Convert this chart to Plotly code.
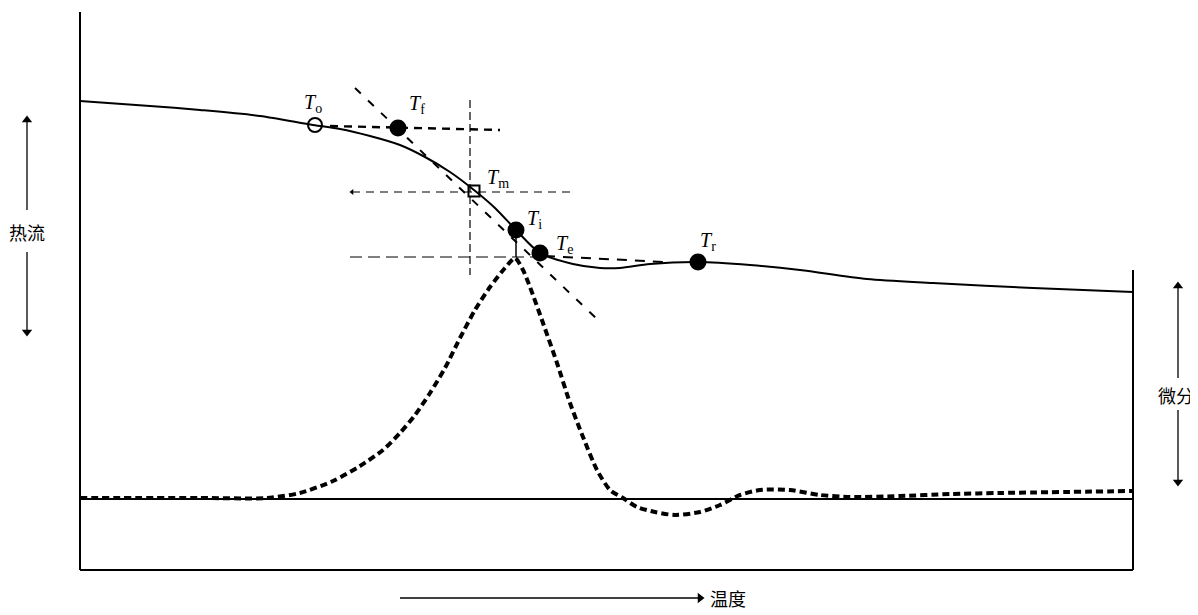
import plotly.graph_objects as go

# Heat-flow curve (temperature, heat flow) in arbitrary units
temp_hf = [0, 7, 12, 18, 23.3, 26, 29, 32, 34.5, 37, 39.4, 41.5, 43.6, 46, 49.3, 52, 54, 57, 61.8,
           67, 72, 78.7, 85.3, 95.3, 105.3]
heat_flow = [46.9, 46.4, 46.0, 45.4, 44.5, 44.1, 43.4, 42.5, 41.3, 39.8, 38.0, 36.2, 34.0, 31.7,
             30.6, 30.2, 30.2, 30.6, 30.8, 30.5, 30.0, 29.1, 28.7, 28.2, 27.8]

# Derivative curve
temp_d = [0, 12, 18.7, 22, 25.3, 28, 30.3, 32, 33.5, 35, 36.5, 38, 39.5, 41, 42.5, 43.5,
          44.3, 45, 46.3, 47.7, 49, 50.3, 51.7, 53, 54.3, 55.7, 57.5, 59.5, 62, 64, 66, 68, 71,
          74, 77, 82, 87, 92, 105.3]
deriv = [7.2, 7.2, 7.2, 7.7, 8.9, 10.4, 12.0, 13.7, 15.5, 17.7, 20.2, 23.2, 26.0, 28.3, 30.2, 31.2,
         30.0, 28.3, 24.7, 20.7, 16.7, 13.3, 10.0, 8.0, 7.2, 6.3, 5.8, 5.5, 5.8, 6.5, 7.5, 8.0,
         8.0, 7.5, 7.3, 7.4, 7.6, 7.7, 7.9]

baseline_x = [0, 105.3]
baseline_y = [7.1, 7.1]

# Characteristic points
pt_names = ["o", "f", "m", "i", "e", "r"]
pt_x = [23.5, 31.8, 39.4, 43.6, 46.0, 61.8]
pt_y = [44.5, 44.2, 37.9, 34.0, 31.7, 30.8]
lbl_x = [23.3, 33.7, 41.8, 45.4, 48.4, 62.8]
lbl_y = [46.7, 46.6, 39.2, 35.1, 32.6, 32.9]

# Construction lines (x0, y0, x1, y1, dash, width)
constr = [
    (25.0, 44.4, 42.0, 44.0, "8px,6px", 2.4),   # extrapolated initial baseline
    (27.5, 48.2, 51.8, 25.0, "8px,10px", 2.0),  # inflection tangent
    (27.2, 37.8, 49.2, 37.8, "8px,6px", 1.2),   # half-height line
    (39.0, 47.0, 39.0, 29.5, "8px,4px", 1.2),   # vertical through Tm
    (27.0, 31.3, 46.0, 31.3, "12px,6px", 1.2),  # peak level
    (46.5, 31.4, 58.5, 30.8, "10px,8px", 2.0),  # extrapolated final baseline
    (43.6, 34.0, 43.6, 31.3, "solid", 1.5),     # Ti drop
]

# Direction arrows: shaft (x0, y0, x1, y1) with head at (x1, y1)
arrows = [
    (-5.3, 36.0, -5.3, 45.0, "triangle-up"),
    (-5.3, 31.8, -5.3, 23.8, "triangle-down"),
    (109.8, 19.2, 109.8, 28.4, "triangle-up"),
    (109.8, 16.0, 109.8, 8.8, "triangle-down"),
    (32.0, -2.8, 62.0, -2.8, "triangle-right"),
]

fig = go.Figure()

# frame
frame = [(0, 0, 0, 55.8), (0, 0, 105.3, 0), (105.3, 0, 105.3, 30.0)]
for x0, y0, x1, y1 in frame:
    fig.add_shape(type="line", x0=x0, y0=y0, x1=x1, y1=y1, xref="x", yref="y",
                  line=dict(color="black", width=2))

for x0, y0, x1, y1, d, w in constr:
    fig.add_shape(type="line", x0=x0, y0=y0, x1=x1, y1=y1, xref="x", yref="y",
                  line=dict(color="black", width=w, dash=d))

for x0, y0, x1, y1, sym in arrows:
    fig.add_shape(type="line", x0=x0, y0=y0, x1=x1, y1=y1, xref="x", yref="y",
                  line=dict(color="black", width=1.3))
fig.add_trace(go.Scatter(x=[a[2] for a in arrows], y=[a[3] for a in arrows], mode="markers",
                         marker=dict(symbol=[a[4] for a in arrows], size=9, color="black"),
                         hoverinfo="skip"))
# tiny head at left end of half-height line
fig.add_trace(go.Scatter(x=[27.2], y=[37.8], mode="markers",
                         marker=dict(symbol="triangle-left", size=5, color="black"),
                         hoverinfo="skip"))

fig.add_trace(go.Scatter(x=baseline_x, y=baseline_y, mode="lines",
                         line=dict(color="black", width=2.2), hoverinfo="skip"))
fig.add_trace(go.Scatter(x=temp_d, y=deriv, mode="lines",
                         line=dict(color="black", width=4, dash="7px,4px", shape="spline", smoothing=0.7),
                         hoverinfo="skip"))
fig.add_trace(go.Scatter(x=temp_hf, y=heat_flow, mode="lines",
                         line=dict(color="black", width=2, shape="spline", smoothing=0.8),
                         hoverinfo="skip"))

symbols = ["circle-open", "circle", "square-open", "circle", "circle", "circle"]
sizes = [14, 15, 11, 15, 15, 15]
fig.add_trace(go.Scatter(x=pt_x, y=pt_y, mode="markers",
                         marker=dict(symbol=symbols, size=sizes, color="black", opacity=1,
                                     line=dict(color="black", width=2)),
                         hoverinfo="skip"))

for n, lx, ly in zip(pt_names, lbl_x, lbl_y):
    fig.add_annotation(x=lx, y=ly, xref="x", yref="y", showarrow=False,
                       text=f"<i>T</i><sub>{n}</sub>",
                       font=dict(family="Liberation Serif", size=20, color="black"))

cjk = dict(family="Noto Sans CJK SC", size=18, color="black")
fig.add_annotation(x=-5.3, y=33.8, xref="x", yref="y", text="热流", showarrow=False, font=cjk)
fig.add_annotation(x=109.6, y=17.5, xref="x", yref="y", text="微分", showarrow=False, font=cjk)
fig.add_annotation(x=64.8, y=-2.8, xref="x", yref="y", text="温度", showarrow=False, font=cjk)

# page body adds an 8px offset; the figure is sized to fit and ranges compensate
fig.update_layout(
    width=1190, height=607,
    margin=dict(l=0, r=0, t=0, b=0),
    paper_bgcolor="white", plot_bgcolor="white",
    showlegend=False,
    xaxis=dict(range=[-7.2, 111.8], visible=False, fixedrange=True),
    yaxis=dict(range=[-4.5, 56.2], visible=False, fixedrange=True),
)

fig.write_html("out.html")
